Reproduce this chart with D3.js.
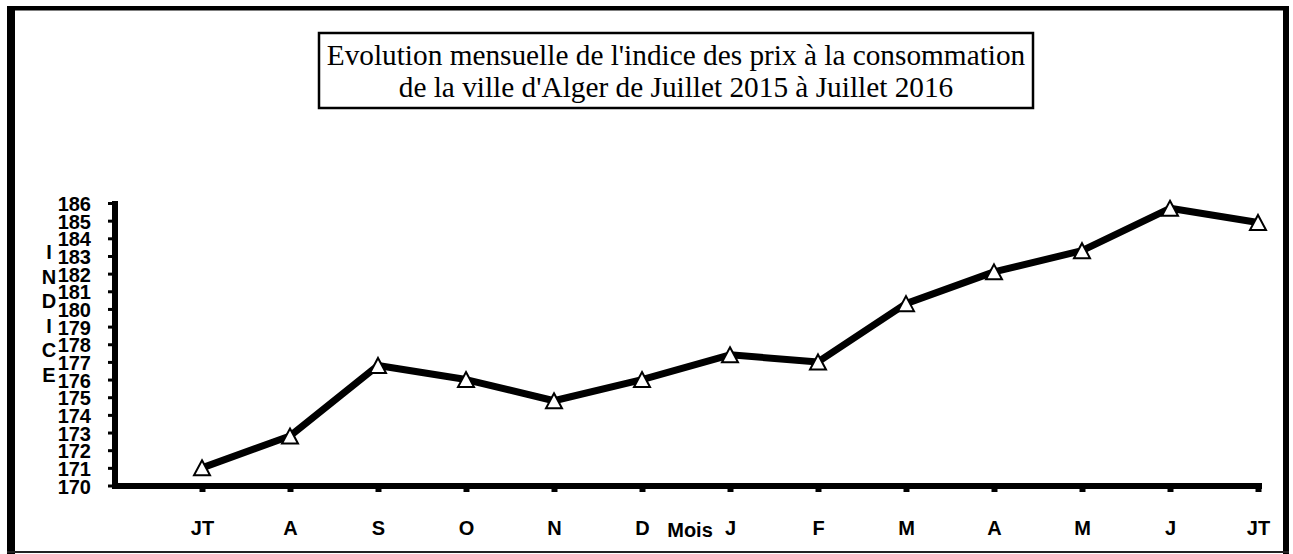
<!DOCTYPE html>
<html>
<head>
<meta charset="utf-8">
<script src="https://d3js.org/d3.v7.min.js"></script>
<style>
  body { margin: 0; background: #fff; }
  text { fill: #000; }
  .axis-label { font-family: "Liberation Sans", Arial, sans-serif; font-weight: bold; font-size: 20px; }
  .title { font-family: "Liberation Serif", "Times New Roman", serif; font-size: 29.3px; }
</style>
</head>
<body>
<div class="visual-container"></div>
<script>
// chart data
var months = ['JT', 'A', 'S', 'O', 'N', 'D', 'J', 'F', 'M', 'A', 'M', 'J', 'JT'];
var indexValues = [171.0, 172.8, 176.8, 176.0, 174.8, 176.0, 177.4, 177.0, 180.3, 182.1, 183.3, 185.7, 184.9];
var yTickValues = [170, 171, 172, 173, 174, 175, 176, 177, 178, 179, 180, 181, 182, 183, 184, 185, 186];
var titleLines = ["Evolution mensuelle de l'indice des prix à la consommation",
                  "de la ville d'Alger de Juillet 2015 à Juillet 2016"];
var yTitle = 'INDICE';
var xTitle = 'Mois';

const width = 1293;
const height = 554;

var svg = d3.select('.visual-container')
  .append('svg')
  .attr('width', width)
  .attr('height', height)
  .style('display', 'block');

// outer frame (uneven like the scanned original)
svg.append('rect').attr('x', 7).attr('y', 6).attr('width', 8).attr('height', 548);
svg.append('rect').attr('x', 7).attr('y', 6).attr('width', 1282).attr('height', 4.5);
svg.append('rect').attr('x', 1283).attr('y', 6).attr('width', 6).attr('height', 548);
svg.append('rect').attr('x', 7).attr('y', 551).attr('width', 1282).attr('height', 2).attr('fill', '#222');

// title box
svg.append('rect')
  .attr('x', 319).attr('y', 33)
  .attr('width', 714).attr('height', 75)
  .attr('fill', 'none')
  .attr('stroke', '#000')
  .attr('stroke-width', 2.5);

svg.selectAll('.title')
  .data(titleLines)
  .enter()
  .append('text')
    .attr('class', 'title')
    .attr('x', 676)
    .attr('y', (d, i) => 64.5 + i * 32.5)
    .attr('text-anchor', 'middle')
    .text(d => d);

// scales
var x = d3.scalePoint()
  .domain(d3.range(months.length))
  .range([202, 1258]);

var y = d3.scaleLinear()
  .domain([170, 186])
  .range([485.5, 203]);

// y axis
var yAxis = svg.append('g')
  .attr('transform', 'translate(115,0)')
  .call(d3.axisLeft(y).tickValues(yTickValues).tickSize(7).tickPadding(17).tickFormat(d3.format('d')));
yAxis.select('.domain').remove();
yAxis.selectAll('.tick line').attr('stroke', '#000').attr('stroke-width', 3);
yAxis.selectAll('.tick text')
  .attr('class', 'axis-label')
  .attr('dy', '0.38em');
svg.append('line')
  .attr('x1', 115).attr('x2', 115)
  .attr('y1', 201).attr('y2', 489)
  .attr('stroke', '#000')
  .attr('stroke-width', 6);

// x axis
var xAxis = svg.append('g')
  .attr('transform', 'translate(0,486)')
  .call(d3.axisBottom(x).tickSize(6).tickPadding(29).tickFormat(i => months[i]));
xAxis.select('.domain').remove();
xAxis.selectAll('.tick line').attr('stroke', '#000').attr('stroke-width', 6);
xAxis.selectAll('.tick text')
  .attr('class', 'axis-label')
  .attr('dy', '0.71em');
svg.append('line')
  .attr('x1', 112).attr('x2', 1262)
  .attr('y1', 486).attr('y2', 486)
  .attr('stroke', '#000')
  .attr('stroke-width', 6);

// axis titles
svg.append('text')
  .attr('class', 'axis-label')
  .attr('x', 690)
  .attr('y', 537)
  .attr('text-anchor', 'middle')
  .text(xTitle);

svg.selectAll('.ytitle')
  .data(yTitle.split(''))
  .enter()
  .append('text')
    .attr('class', 'axis-label ytitle')
    .attr('x', 49)
    .attr('y', (d, i) => 259 + i * 24.6)
    .attr('text-anchor', 'middle')
    .text(d => d);

// the series line
var line = d3.line()
  .x((d, i) => x(i))
  .y(d => y(d));

svg.append('path')
  .datum(indexValues)
  .attr('d', line)
  .attr('fill', 'none')
  .attr('stroke', '#000')
  .attr('stroke-width', 7)
  .attr('stroke-linejoin', 'round');

// triangle markers
svg.selectAll('.marker')
  .data(indexValues)
  .enter()
  .append('path')
    .attr('class', 'marker')
    .attr('d', 'M0,-7.5L8,7.5L-8,7.5Z')
    .attr('transform', (d, i) => `translate(${x(i)},${y(d)})`)
    .attr('fill', '#fff')
    .attr('stroke', '#000')
    .attr('stroke-width', 2);
</script>
</body>
</html>
